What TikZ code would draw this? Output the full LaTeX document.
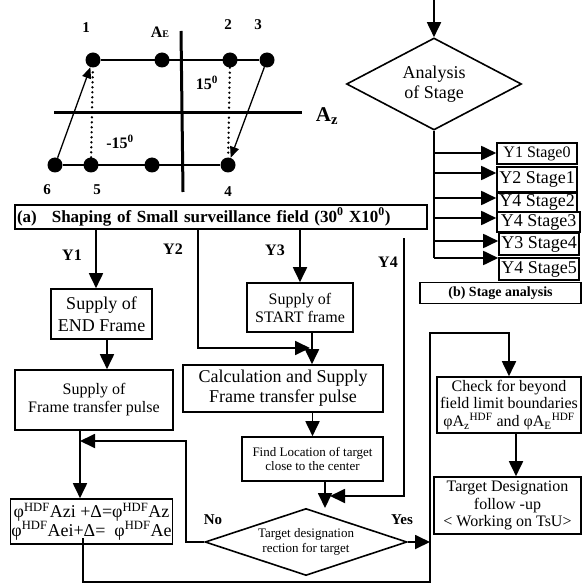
\documentclass[tikz,border=0pt]{standalone}
\usepackage{fontspec}
\setmainfont{Liberation Serif}
\usetikzlibrary{arrows.meta}
\usetikzlibrary{shapes.geometric}

\tikzset{
  box/.style={draw=black, line width=1.6pt, fill=white, align=center, inner sep=1pt, shape=rectangle},
  decision/.style={draw=black, line width=1.6pt, fill=white, align=center, inner sep=0pt, shape=diamond},
  flow/.style={line width=1.8pt, -{Triangle[length=15pt,width=14pt]}},
  wire/.style={line width=1.8pt},
  fielddot/.style={shape=circle, fill=black, minimum size=15pt, inner sep=0pt},
  fieldline/.style={line width=1.3pt},
  fieldarrow/.style={line width=1.3pt, -{Triangle[length=11pt,width=9pt]}},
  dotline/.style={line width=2.6pt, line cap=round, dash pattern=on 0pt off 5pt},
  axisline/.style={line width=3pt},
  lbl/.style={font=\bfseries\fontsize{16}{16}\selectfont},
}

\begin{document}
\begin{tikzpicture}[x=1pt, y=-1pt]
\useasboundingbox (0,0) rectangle (582,585);

% surveillance field
\node[fielddot] (p1) at (93,60) {};
\node[fielddot] (pa) at (162,60) {};
\node[fielddot] (p2) at (230,60) {};
\node[fielddot] (p3) at (267,60) {};
\node[fielddot] (p6) at (55,165) {};
\node[fielddot] (p5) at (91,165) {};
\node[fielddot] (pb) at (152,165) {};
\node[fielddot] (p4) at (228,165) {};

\coordinate (aeTop) at (181,31);
\coordinate (aeBot) at (183,192);
\coordinate (azLeft) at (54,113);
\coordinate (azRight) at (302,113);

\draw[axisline] (aeTop) -- (aeBot);
\draw[axisline] (azLeft) -- (azRight);
\draw[fieldline] (p1) -- (p3);
\draw[fieldline] (p6) -- (p4);
\draw[fieldarrow] (p6) -- (p1);
\draw[fieldarrow] (p3) -- (p4);
\draw[dotline] (p5) -- (p1);
\draw[dotline] (p2) -- (p4);

\node[lbl, font=\bfseries\fontsize{15}{15}\selectfont] (n1) at (86,28) {1};
\node[lbl, font=\bfseries\fontsize{15}{15}\selectfont] (n2) at (228,25) {2};
\node[lbl, font=\bfseries\fontsize{15}{15}\selectfont] (n3) at (258,25) {3};
\node[lbl, font=\bfseries\fontsize{15}{15}\selectfont] (n4) at (228,192) {4};
\node[lbl, font=\bfseries\fontsize{15}{15}\selectfont] (n5) at (97,190) {5};
\node[lbl, font=\bfseries\fontsize{15}{15}\selectfont] (n6) at (47,190) {6};
\node[lbl] (labAE) at (160,32) {A{\fontsize{10}{10}\selectfont E}};
\node[font=\bfseries\fontsize{21}{21}\selectfont] (labAz) at (327,116) {A\textsubscript{z}};
\node[lbl] (deg15) at (207,83) {15\textsuperscript{0}};
\node[lbl] (degm15) at (120,142) {-15\textsuperscript{0}};

\node[box, text width=408pt, minimum height=24pt, inner xsep=2pt, align=left, font=\bfseries\fontsize{17}{17}\selectfont] (caption) at (221,217) {(a)\hspace{15pt}Shaping of Small surveillance field (30\textsuperscript{0} X10\textsuperscript{0})};

\node[lbl] (labY1) at (72,255) {Y1};
\node[lbl] (labY2) at (173,249) {Y2};
\node[lbl] (labY3) at (275,250) {Y3};
\node[lbl] (labY4) at (388,262) {Y4};

% frame supply and correction
\node[box, minimum width=101pt, minimum height=50pt, font=\fontsize{18}{21.5}\selectfont] (endFrame) at (101.5,314) {Supply of\\END Frame};
\node[box, minimum width=158pt, minimum height=60pt, font=\fontsize{16}{18}\selectfont] (pulseA) at (94,400) {Supply of\\Frame transfer pulse};
\node[box, minimum width=153pt, minimum height=45pt, font=\fontsize{18}{18.5}\selectfont] (update) at (91.5,521.5) {φ\textsuperscript{HDF}Azi +Δ=φ\textsuperscript{HDF}Az\\φ\textsuperscript{HDF}Aei+Δ=\ \ φ\textsuperscript{HDF}Ae};

\node[box, minimum width=106pt, minimum height=49pt, font=\fontsize{16}{18}\selectfont] (startFrame) at (300,307.5) {Supply of\\START frame};
\node[box, minimum width=200pt, minimum height=47pt, font=\fontsize{18}{20}\selectfont] (calcPulse) at (283,388.5) {Calculation and Supply\\Frame transfer pulse};
\node[box, minimum width=141pt, minimum height=44pt, font=\fontsize{13}{14.5}\selectfont] (findTarget) at (312.5,459) {Find Location of target\\close to the center};
\node[decision, minimum width=202pt, minimum height=67pt, aspect=3, font=\fontsize{13}{15}\selectfont] (designate) at (306,542) {Target designation\\rection for target};

\node[font=\bfseries\fontsize{15}{15}\selectfont] (labNo) at (213,520) {No};
\node[font=\bfseries\fontsize{15}{15}\selectfont] (labYes) at (402,520) {Yes};

% stage analysis
\node[decision, minimum width=175pt, minimum height=92pt, aspect=1.9, font=\fontsize{18}{20}\selectfont] (analysis) at (434,84) {Analysis\\of Stage};

\node[box, minimum width=80pt, minimum height=21pt, inner sep=0pt, font=\fontsize{16}{16}\selectfont] (stage0) at (537,153.5) {Y1 Stage0};
\node[box, minimum width=80pt, minimum height=25pt, inner sep=0pt, font=\fontsize{18}{18}\selectfont] (stage1) at (537,179.5) {Y2 Stage1};
\node[box, minimum width=80pt, minimum height=19pt, inner sep=0pt, font=\fontsize{18}{18}\selectfont] (stage2) at (537,202.5) {Y4 Stage2};
\node[box, minimum width=83pt, minimum height=20pt, inner sep=0pt, font=\fontsize{18}{18}\selectfont] (stage3) at (538.5,222) {Y4 Stage3};
\node[box, minimum width=80pt, minimum height=22pt, inner sep=0pt, font=\fontsize{18}{18}\selectfont] (stage4) at (539,244) {Y3 Stage4};
\node[box, minimum width=80pt, minimum height=22pt, inner sep=0pt, font=\fontsize{18}{18}\selectfont] (stage5) at (539,269) {Y4 Stage5};
\node[box, minimum width=161pt, minimum height=21pt, inner sep=0pt, font=\bfseries\fontsize{14}{14}\selectfont] (stageCaption) at (500.5,293) {(b) Stage analysis};

\node[box, minimum width=144pt, minimum height=56pt, font=\fontsize{16}{17.5}\selectfont] (checkLimits) at (509,405) {Check for beyond\\field limit boundaries\\φA\textsubscript{z}\textsuperscript{HDF} and φA\textsubscript{E}\textsuperscript{HDF}};
\node[box, minimum width=147pt, minimum height=57pt, font=\fontsize{16}{17.5}\selectfont] (followUp) at (507.5,505.5) {Target Designation\\follow -up\\< Working on TsU>};

% connectors
\coordinate (y1) at (96,0);
\coordinate (y2) at (198,0);
\coordinate (y2end) at (310,348);
\coordinate (y4top) at (404,238);
\coordinate (y4end) at (330,496);
\coordinate (lx) at (80,0);
\coordinate (fb) at (186,441);
\coordinate (rl) at (430,333);
\coordinate (loopStart) at (83,538);
\coordinate (loopLow) at (83,582);
\coordinate (meet) at (325,508);
\coordinate (inTop) at (434,0);
\coordinate (trunkEnd) at (434,258);

\draw[flow] (caption.south -| y1) -- (endFrame.north -| y1);
\draw[flow] ([xshift=5.5pt]endFrame.south) -- ([xshift=5.5pt]endFrame.south |- pulseA.north);
\draw[flow] (pulseA.south -| lx) -- (update.north -| lx);
\draw[flow] (caption.south -| y2) -- (y2 |- y2end) -- (y2end);
\draw[flow] (caption.south -| startFrame.north) -- (startFrame.north);
\draw[flow] ([xshift=12pt]startFrame.south) -- ([xshift=12pt]startFrame.south |- calcPulse.north);
\draw[flow] (calcPulse.south -| findTarget.north) -- (findTarget.north);
\draw[flow] ([xshift=12.5pt]findTarget.south) -- (meet);
\draw[flow] (y4top) -- (y4top |- y4end) -- (y4end);
\draw[flow] (designate.west) -- (designate.west -| fb) -- (fb) -- (fb -| lx);
\draw[flow] (designate.east) -- (designate.east -| rl);
\draw[flow] (loopStart) -- (loopLow) -- (loopLow -| rl) -- (rl) -- (rl -| checkLimits.north) -- (checkLimits.north);
\draw[flow] ([xshift=7pt]checkLimits.south) -- ([xshift=7pt]checkLimits.south |- followUp.north);

\draw[flow] (inTop) -- (analysis.north);
\draw[wire] (analysis.south) -- (trunkEnd);
\foreach \s/\y in {stage0/153, stage1/173, stage2/198, stage3/218, stage4/241, stage5/258}
  \draw[flow] (trunkEnd |- 0,\y) -- (\s.west |- 0,\y);

\end{tikzpicture}
\end{document}
